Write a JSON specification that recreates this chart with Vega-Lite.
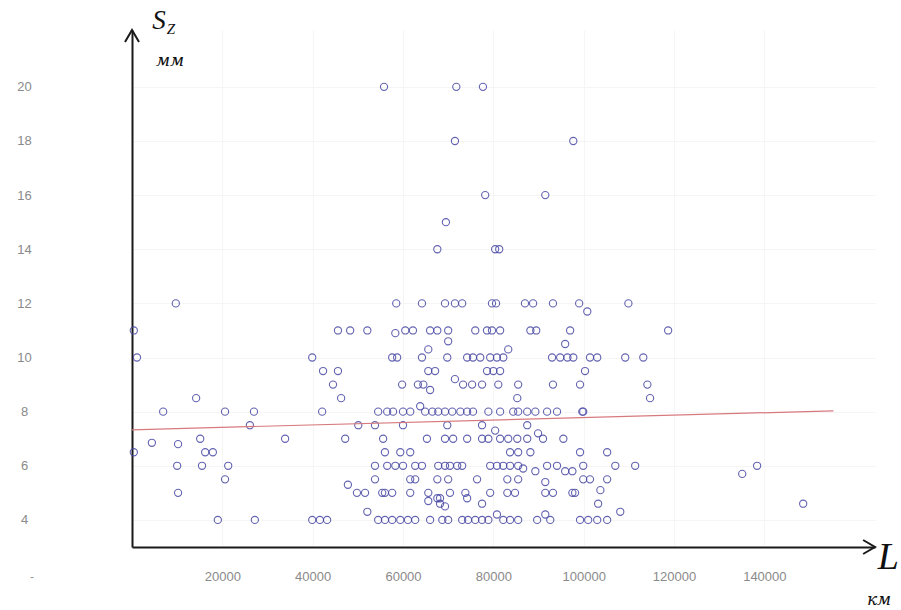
{
  "$schema": "https://vega.github.io/schema/vega-lite/v6.json",
  "width": 743,
  "height": 517,
  "autosize": {"type": "none"},
  "padding": {"left": 132, "top": 30, "right": 26, "bottom": 63},
  "background": "white",
  "config": {"view": {"stroke": null}},
  "datasets": {
    "pts": [
      {"L":55800,"S":20},{"L":71800,"S":20},{"L":77700,"S":20},
      {"L":71500,"S":18},{"L":97700,"S":18},
      {"L":78200,"S":16},{"L":91500,"S":16},
      {"L":69500,"S":15},
      {"L":67600,"S":14},{"L":80400,"S":14},{"L":81300,"S":14},
      {"L":9700,"S":12},{"L":58500,"S":12},{"L":64200,"S":12},{"L":69300,"S":12},{"L":71500,"S":12},{"L":73100,"S":12},{"L":79700,"S":12},{"L":80600,"S":12},{"L":87000,"S":12},{"L":88800,"S":12},{"L":93200,"S":12},{"L":99000,"S":12},{"L":109900,"S":12},
      {"L":100800,"S":11.7},
      {"L":400,"S":11},{"L":45600,"S":11},{"L":48300,"S":11},{"L":52100,"S":11},{"L":60500,"S":11},{"L":62200,"S":11},{"L":66000,"S":11},{"L":67600,"S":11},{"L":70000,"S":11},{"L":76000,"S":11},{"L":78600,"S":11},{"L":79700,"S":11},{"L":81500,"S":11},{"L":88200,"S":11},{"L":89500,"S":11},{"L":97000,"S":11},{"L":118700,"S":11},
      {"L":58300,"S":10.9},{"L":70000,"S":10.6},{"L":95900,"S":10.5},
      {"L":1100,"S":10},{"L":39900,"S":10},{"L":57600,"S":10},{"L":58700,"S":10},{"L":64200,"S":10},{"L":69800,"S":10},{"L":74200,"S":10},{"L":75500,"S":10},{"L":77100,"S":10},{"L":79300,"S":10},{"L":80800,"S":10},{"L":82200,"S":10},{"L":93000,"S":10},{"L":94800,"S":10},{"L":96400,"S":10},{"L":97700,"S":10},{"L":101400,"S":10},{"L":103000,"S":10},{"L":109200,"S":10},{"L":113200,"S":10},
      {"L":65600,"S":10.3},{"L":83300,"S":10.3},
      {"L":42300,"S":9.5},{"L":45600,"S":9.5},{"L":65600,"S":9.5},{"L":67100,"S":9.5},{"L":78600,"S":9.5},{"L":80000,"S":9.5},{"L":81500,"S":9.5},{"L":100300,"S":9.5},
      {"L":71500,"S":9.2},
      {"L":44500,"S":9},{"L":59800,"S":9},{"L":63300,"S":9},{"L":64500,"S":9},{"L":73300,"S":9},{"L":75300,"S":9},{"L":77500,"S":9},{"L":81100,"S":9},{"L":85500,"S":9},{"L":93200,"S":9},{"L":99200,"S":9},{"L":114100,"S":9},
      {"L":66000,"S":8.8},
      {"L":14200,"S":8.5},{"L":46300,"S":8.5},{"L":85300,"S":8.5},{"L":114700,"S":8.5},
      {"L":63800,"S":8.2},
      {"L":6900,"S":8},{"L":20600,"S":8},{"L":27000,"S":8},{"L":42100,"S":8},{"L":54500,"S":8},{"L":56500,"S":8},{"L":57800,"S":8},{"L":60000,"S":8},{"L":61600,"S":8},{"L":64900,"S":8},{"L":66500,"S":8},{"L":67800,"S":8},{"L":69300,"S":8},{"L":70900,"S":8},{"L":72700,"S":8},{"L":74200,"S":8},{"L":75500,"S":8},{"L":78900,"S":8},{"L":81500,"S":8},{"L":84400,"S":8},{"L":85500,"S":8},{"L":87500,"S":8},{"L":89300,"S":8},{"L":91900,"S":8},{"L":94100,"S":8},{"L":99700,"S":8},{"L":99900,"S":8},
      {"L":26100,"S":7.5},{"L":50100,"S":7.5},{"L":53800,"S":7.5},{"L":60000,"S":7.5},{"L":69800,"S":7.5},{"L":77500,"S":7.5},{"L":87500,"S":7.5},
      {"L":80400,"S":7.3},{"L":89900,"S":7.2},
      {"L":15100,"S":7},{"L":33900,"S":7},{"L":47200,"S":7},{"L":55600,"S":7},{"L":65300,"S":7},{"L":69300,"S":7},{"L":71100,"S":7},{"L":74200,"S":7},{"L":77500,"S":7},{"L":78900,"S":7},{"L":81500,"S":7},{"L":83300,"S":7},{"L":85300,"S":7},{"L":87500,"S":7},{"L":91000,"S":7},{"L":95500,"S":7},
      {"L":4400,"S":6.85},{"L":10200,"S":6.8},
      {"L":400,"S":6.5},{"L":16200,"S":6.5},{"L":17900,"S":6.5},{"L":56000,"S":6.5},{"L":59400,"S":6.5},{"L":61600,"S":6.5},{"L":83700,"S":6.5},{"L":85500,"S":6.5},{"L":88200,"S":6.5},{"L":99200,"S":6.5},{"L":105200,"S":6.5},
      {"L":10000,"S":6},{"L":15500,"S":6},{"L":21300,"S":6},{"L":53800,"S":6},{"L":56500,"S":6},{"L":58300,"S":6},{"L":60000,"S":6},{"L":62700,"S":6},{"L":64200,"S":6},{"L":67800,"S":6},{"L":69300,"S":6},{"L":70400,"S":6},{"L":72000,"S":6},{"L":73100,"S":6},{"L":79300,"S":6},{"L":80800,"S":6},{"L":82200,"S":6},{"L":83700,"S":6},{"L":85500,"S":6},{"L":91900,"S":6},{"L":94100,"S":6},{"L":99900,"S":6},{"L":107000,"S":6},{"L":111400,"S":6},{"L":138400,"S":6},
      {"L":86600,"S":5.9},{"L":89300,"S":5.8},{"L":95900,"S":5.8},{"L":97500,"S":5.8},{"L":135100,"S":5.7},
      {"L":20600,"S":5.5},{"L":53800,"S":5.5},{"L":61600,"S":5.5},{"L":62700,"S":5.5},{"L":67600,"S":5.5},{"L":70000,"S":5.5},{"L":76400,"S":5.5},{"L":83100,"S":5.5},{"L":85500,"S":5.5},{"L":99900,"S":5.5},{"L":101400,"S":5.5},{"L":105200,"S":5.5},
      {"L":91500,"S":5.4},{"L":47800,"S":5.3},{"L":103700,"S":5.1},
      {"L":10200,"S":5},{"L":49800,"S":5},{"L":51600,"S":5},{"L":55400,"S":5},{"L":56000,"S":5},{"L":57600,"S":5},{"L":61600,"S":5},{"L":65600,"S":5},{"L":70400,"S":5},{"L":73800,"S":5},{"L":79300,"S":5},{"L":83100,"S":5},{"L":84800,"S":5},{"L":91500,"S":5},{"L":93200,"S":5},{"L":97500,"S":5},{"L":98100,"S":5},
      {"L":67600,"S":4.8},{"L":68200,"S":4.8},{"L":74200,"S":4.8},{"L":65600,"S":4.7},
      {"L":68200,"S":4.6},{"L":77500,"S":4.6},{"L":103200,"S":4.6},{"L":148600,"S":4.6},{"L":69300,"S":4.5},
      {"L":52100,"S":4.3},{"L":108100,"S":4.3},{"L":80800,"S":4.2},{"L":91500,"S":4.2},
      {"L":19000,"S":4},{"L":27200,"S":4},{"L":39900,"S":4},{"L":41600,"S":4},{"L":43200,"S":4},{"L":54500,"S":4},{"L":56000,"S":4},{"L":57600,"S":4},{"L":59400,"S":4},{"L":61100,"S":4},{"L":62700,"S":4},{"L":66000,"S":4},{"L":68700,"S":4},{"L":70000,"S":4},{"L":73100,"S":4},{"L":74400,"S":4},{"L":76000,"S":4},{"L":77500,"S":4},{"L":78900,"S":4},{"L":82200,"S":4},{"L":83700,"S":4},{"L":85500,"S":4},{"L":89700,"S":4},{"L":92600,"S":4},{"L":99200,"S":4},{"L":101000,"S":4},{"L":103000,"S":4},{"L":105200,"S":4}
    ],
    "trend": [{"L":0,"S":7.33},{"L":155300,"S":8.03}],
    "labels": [
      {"L":5980,"S":22.44,"t":"S"},
      {"L":8640,"S":22.14,"t":"Z"},
      {"L":8420,"S":20.96,"t":"мм"},
      {"L":167450,"S":2.6,"t":"L"},
      {"L":165400,"S":1.04,"t":"км"},
      {"L":-22150,"S":1.9,"t":"-"}
    ],
    "arrowY": [{"L":0,"S":22.1}],
    "arrowX": [{"L":164500,"S":3}]
  },
  "layer": [
    {
      "data": {"name": "pts"},
      "mark": {"type": "point", "shape": "circle", "filled": false, "size": 52, "strokeWidth": 1.1, "color": "#4848a4", "opacity": 0.85, "clip": false},
      "encoding": {
        "x": {
          "field": "L", "type": "quantitative",
          "scale": {"domain": [0, 164500], "nice": false, "zero": false},
          "axis": {
            "values": [20000, 40000, 60000, 80000, 100000, 120000, 140000],
            "format": "d", "title": null, "ticks": false, "labelPadding": 23,
            "labelFont": "Liberation Sans", "labelFontSize": 13, "labelColor": "#8a8a8a",
            "domainColor": "#1a1a1a", "domainWidth": 2,
            "grid": true, "gridColor": "#f5f5f5", "gridWidth": 1
          }
        },
        "y": {
          "field": "S", "type": "quantitative",
          "scale": {"domain": [3, 22.1], "nice": false, "zero": false},
          "axis": {
            "values": [4, 6, 8, 10, 12, 14, 16, 18, 20],
            "title": null, "ticks": false, "labelPadding": 108, "labelAlign": "center",
            "labelFont": "Liberation Sans", "labelFontSize": 13, "labelColor": "#8a8a8a",
            "domainColor": "#1a1a1a", "domainWidth": 2,
            "grid": true, "gridColor": "#f5f5f5", "gridWidth": 1
          }
        }
      }
    },
    {
      "data": {"name": "trend"},
      "mark": {"type": "line", "color": "#d77a7e", "strokeWidth": 1.2},
      "encoding": {
        "x": {"field": "L", "type": "quantitative"},
        "y": {"field": "S", "type": "quantitative"}
      }
    },
    {
      "data": {"name": "arrowY"},
      "mark": {"type": "point", "shape": "M-1,1.7L0,0L1,1.7", "size": 196, "filled": false, "stroke": "#1a1a1a", "strokeWidth": 2, "opacity": 1, "clip": false},
      "encoding": {
        "x": {"field": "L", "type": "quantitative"},
        "y": {"field": "S", "type": "quantitative"}
      }
    },
    {
      "data": {"name": "arrowX"},
      "mark": {"type": "point", "shape": "M-1.7,-1L0,0L-1.7,1", "size": 196, "filled": false, "stroke": "#1a1a1a", "strokeWidth": 2, "opacity": 1, "clip": false},
      "encoding": {
        "x": {"field": "L", "type": "quantitative"},
        "y": {"field": "S", "type": "quantitative"}
      }
    },
    {
      "data": {"name": "labels"},
      "transform": [{"filter": "datum.t === 'S'"}],
      "mark": {"type": "text", "align": "center", "baseline": "middle", "clip": false, "font": "Liberation Serif", "fontStyle": "italic", "fontSize": 27, "color": "#111"},
      "encoding": {
        "x": {"field": "L", "type": "quantitative"},
        "y": {"field": "S", "type": "quantitative"},
        "text": {"field": "t"}
      }
    },
    {
      "data": {"name": "labels"},
      "transform": [{"filter": "datum.t === 'Z'"}],
      "mark": {"type": "text", "align": "center", "baseline": "middle", "clip": false, "font": "Liberation Serif", "fontStyle": "italic", "fontSize": 15, "color": "#111"},
      "encoding": {
        "x": {"field": "L", "type": "quantitative"},
        "y": {"field": "S", "type": "quantitative"},
        "text": {"field": "t"}
      }
    },
    {
      "data": {"name": "labels"},
      "transform": [{"filter": "datum.t === 'мм' || datum.t === 'км'"}],
      "mark": {"type": "text", "align": "center", "baseline": "middle", "clip": false, "font": "DejaVu Serif", "fontStyle": "italic", "fontSize": 17, "color": "#111"},
      "encoding": {
        "x": {"field": "L", "type": "quantitative"},
        "y": {"field": "S", "type": "quantitative"},
        "text": {"field": "t"}
      }
    },
    {
      "data": {"name": "labels"},
      "transform": [{"filter": "datum.t === 'L'"}],
      "mark": {"type": "text", "align": "center", "baseline": "middle", "clip": false, "font": "Liberation Serif", "fontStyle": "italic", "fontSize": 38, "color": "#111"},
      "encoding": {
        "x": {"field": "L", "type": "quantitative"},
        "y": {"field": "S", "type": "quantitative"},
        "text": {"field": "t"}
      }
    },
    {
      "data": {"name": "labels"},
      "transform": [{"filter": "datum.t === '-'"}],
      "mark": {"type": "text", "align": "center", "baseline": "middle", "clip": false, "font": "Liberation Sans", "fontSize": 12, "color": "#999"},
      "encoding": {
        "x": {"field": "L", "type": "quantitative"},
        "y": {"field": "S", "type": "quantitative"},
        "text": {"field": "t"}
      }
    }
  ]
}
